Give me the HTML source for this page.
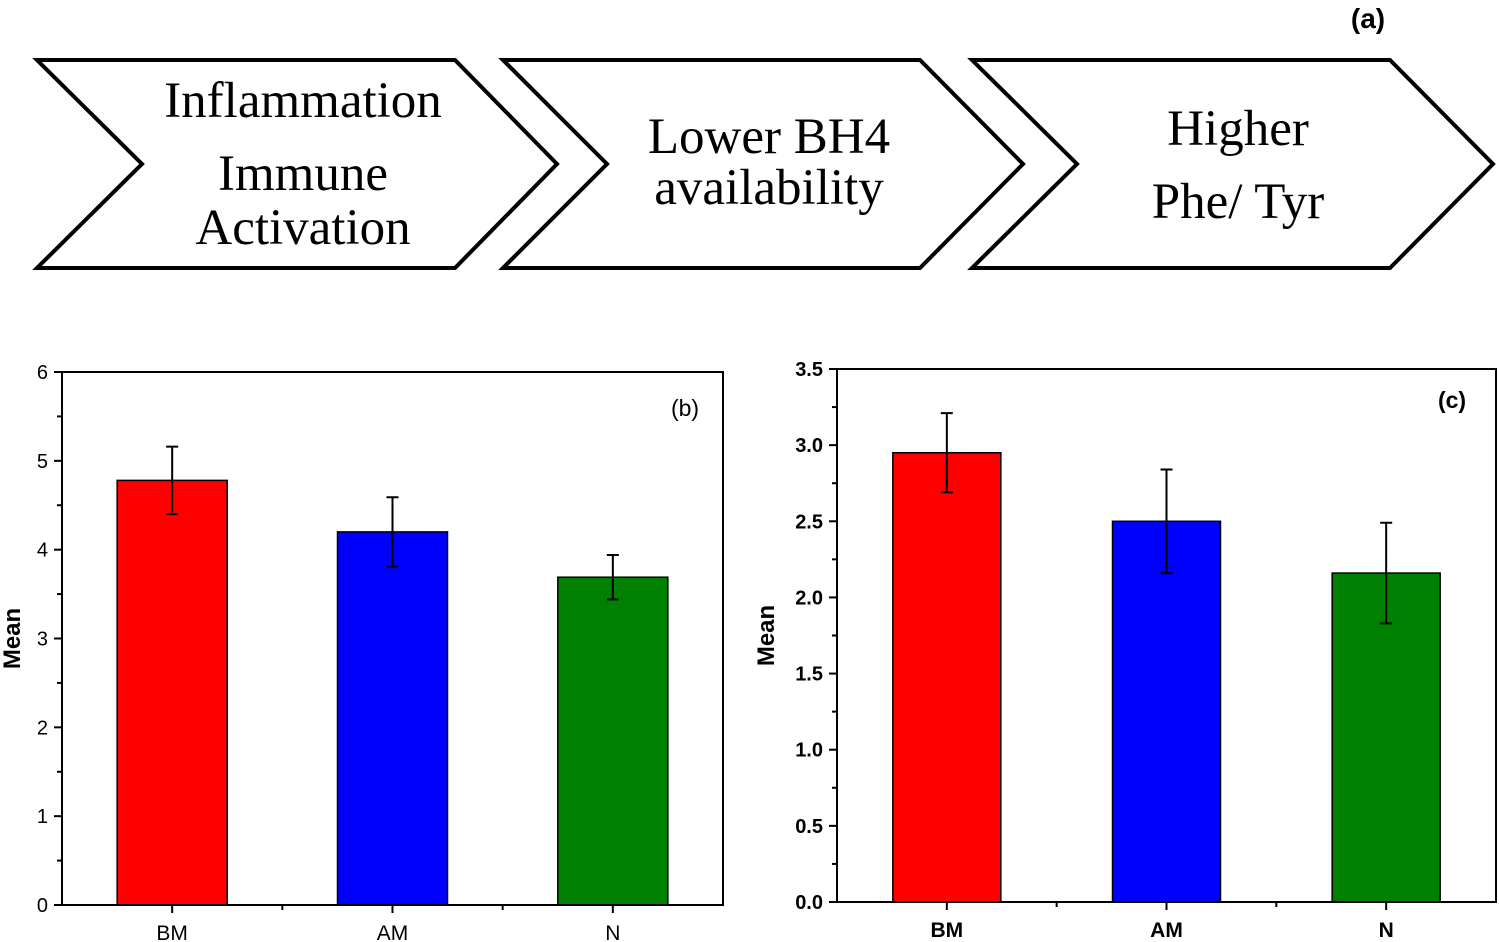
<!DOCTYPE html>
<html><head><meta charset="utf-8"><style>
body{margin:0;background:#fff;width:1499px;height:942px;overflow:hidden}
svg{display:block}
</style></head><body>
<svg width="1499" height="942" xmlns="http://www.w3.org/2000/svg">
<g fill="#fff" stroke="#000" stroke-width="4">
<polygon points="37,60 455,60 557,164 455,268 37,268 142,164"/>
<polygon points="503,60 920,60 1023,164 920,268 503,268 607,164"/>
<polygon points="972,60 1390,60 1493,164 1390,268 972,268 1077,164"/>
</g>
<g font-family="Liberation Serif, serif" font-size="51" text-anchor="middle" fill="#000">
<text x="303" y="117">Inflammation</text>
<text x="303" y="190">Immune</text>
<text x="303" y="244">Activation</text>
<text x="769" y="153">Lower BH4</text>
<text x="769" y="204">availability</text>
<text x="1238" y="145">Higher</text>
<text x="1238" y="218">Phe/ Tyr</text>
</g>
<text x="1368" y="28" font-family="Liberation Sans, sans-serif" font-weight="bold" font-size="28" text-anchor="middle">(a)</text>
<g id="chartB"></g>
<g id="chartC"></g>
</svg>
<script>
const categories=["BM","AM","N"];
const colors=["#ff0000","#0000ff","#008000"];
const bMeans=[4.78,4.2,3.69];
const bErrs=[0.38,0.39,0.25];
const bTicks=[0,1,2,3,4,5,6];
const cMeans=[2.95,2.5,2.16];
const cErrs=[0.26,0.34,0.33];
const cTicks=[0,0.5,1.0,1.5,2.0,2.5,3.0,3.5];
const NS="http://www.w3.org/2000/svg";
function mk(p,t,a){const e=document.createElementNS(NS,t);for(const k in a)e.setAttribute(k,a[k]);p.appendChild(e);return e;}
function draw(g,o){
  const y=v=>o.y0-(v-o.min)/(o.max-o.min)*(o.y0-o.yTop);
  const bw=(o.x1-o.x0)/categories.length;
  const cx=i=>o.x0+bw*(i+0.5);
  const font=o.bold?"bold":"normal";
  categories.forEach((c,i)=>{
    const r=mk(g,"rect",{x:cx(i)-o.barW/2,y:y(o.means[i]),width:o.barW,height:o.y0-y(o.means[i]),fill:colors[i],stroke:"#000","stroke-width":1.5});
    
    
    const e=mk(g,"path",{d:`M${cx(i)},${y(o.means[i]+o.errs[i])}V${y(o.means[i]-o.errs[i])}M${cx(i)-6},${y(o.means[i]+o.errs[i])}h12M${cx(i)-6},${y(o.means[i]-o.errs[i])}h12`,stroke:"#000","stroke-width":2,fill:"none"});
    
    
    const t=mk(g,"text",{x:cx(i),y:o.y0+35,"text-anchor":"middle","font-family":"Liberation Sans, sans-serif","font-size":21,"font-weight":font});
    t.textContent=c;
    
    
    mk(g,"line",{x1:cx(i),x2:cx(i),y1:o.y0,y2:o.y0+8,stroke:"#000","stroke-width":2});
    if(i>0) mk(g,"line",{x1:o.x0+bw*i,x2:o.x0+bw*i,y1:o.y0,y2:o.y0+5,stroke:"#000","stroke-width":2});
  });
  o.ticks.forEach((v,i)=>{
    mk(g,"line",{x1:o.x0-8,x2:o.x0,y1:y(v),y2:y(v),stroke:"#000","stroke-width":2});
    if(i<o.ticks.length-1){const m=(v+o.ticks[i+1])/2;mk(g,"line",{x1:o.x0-5,x2:o.x0,y1:y(m),y2:y(m),stroke:"#000","stroke-width":2});}
    const t=mk(g,"text",{x:o.x0-14,y:y(v)+7,"text-anchor":"end","font-family":"Liberation Sans, sans-serif","font-size":20,"font-weight":font});
    t.textContent=o.fmt(v);
    
    
  });
  const f=mk(g,"rect",{x:o.x0,y:o.yTop,width:o.x1-o.x0,height:o.y0-o.yTop,fill:"none",stroke:"#000","stroke-width":2});
  
  
  const yt=mk(g,"text",{transform:`translate(${o.x0-o.titleOff},${(o.y0+o.yTop)/2}) rotate(-90)`,"text-anchor":"middle","font-family":"Liberation Sans, sans-serif","font-size":24,"font-weight":"bold"});
  yt.textContent="Mean";
  
  
  const pl=mk(g,"text",{x:o.labelX,y:o.labelY,"text-anchor":"middle","font-family":"Liberation Sans, sans-serif","font-size":23,"font-weight":font});
  pl.textContent=o.label;
  
  
}
draw(document.getElementById("chartB"),{x0:62,x1:723,y0:905,yTop:372,min:0,max:6,barW:110,means:bMeans,errs:bErrs,ticks:bTicks,fmt:v=>String(v),bold:false,titleOff:42,label:"(b)",labelX:685,labelY:416});
draw(document.getElementById("chartC"),{x0:837,x1:1496,y0:902,yTop:369,min:0,max:3.5,barW:108,means:cMeans,errs:cErrs,ticks:cTicks,fmt:v=>v.toFixed(1),bold:true,titleOff:63,label:"(c)",labelX:1452,labelY:408});
</script>
</body></html>
